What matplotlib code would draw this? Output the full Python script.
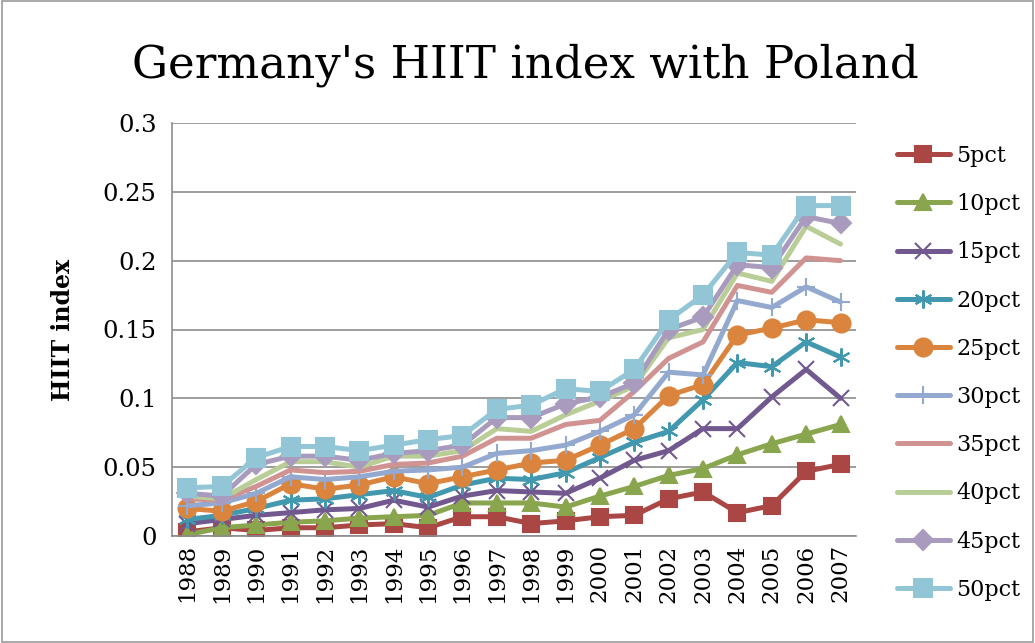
import numpy as np
import matplotlib.pyplot as plt

# Datos
years = [str(y) for y in range(1988, 2008)]
labels = ["5pct", "10pct", "15pct", "20pct", "25pct", "30pct", "35pct", "40pct", "45pct", "50pct"]

pct5 = [0.003, 0.006, 0.004, 0.006, 0.006, 0.008, 0.009, 0.006, 0.014, 0.014,
        0.009, 0.011, 0.014, 0.015, 0.027, 0.032, 0.017, 0.022, 0.047, 0.052]
pct10 = [0.001, 0.006, 0.008, 0.010, 0.011, 0.013, 0.014, 0.015, 0.024, 0.024,
         0.024, 0.021, 0.029, 0.036, 0.044, 0.049, 0.059, 0.067, 0.074, 0.081]
pct15 = [0.009, 0.012, 0.015, 0.017, 0.019, 0.020, 0.026, 0.021, 0.029, 0.033,
         0.032, 0.031, 0.042, 0.055, 0.062, 0.078, 0.078, 0.101, 0.121, 0.100]
pct20 = [0.012, 0.015, 0.020, 0.026, 0.027, 0.030, 0.033, 0.028, 0.037, 0.042,
         0.041, 0.046, 0.057, 0.068, 0.076, 0.099, 0.126, 0.123, 0.141, 0.130]
pct25 = [0.020, 0.018, 0.025, 0.038, 0.034, 0.037, 0.043, 0.038, 0.043, 0.048,
         0.053, 0.055, 0.066, 0.078, 0.102, 0.110, 0.146, 0.151, 0.157, 0.155]
pct30 = [0.022, 0.024, 0.031, 0.043, 0.041, 0.043, 0.047, 0.048, 0.050, 0.060,
         0.062, 0.066, 0.076, 0.088, 0.119, 0.117, 0.171, 0.166, 0.181, 0.170]
pct35 = [0.027, 0.026, 0.036, 0.048, 0.046, 0.047, 0.052, 0.053, 0.058, 0.071,
         0.071, 0.081, 0.084, 0.105, 0.129, 0.141, 0.182, 0.177, 0.202, 0.200]
pct40 = [0.029, 0.027, 0.041, 0.054, 0.054, 0.050, 0.058, 0.058, 0.062, 0.078,
         0.076, 0.088, 0.098, 0.109, 0.144, 0.150, 0.191, 0.185, 0.225, 0.212]
pct45 = [0.031, 0.029, 0.052, 0.058, 0.058, 0.055, 0.060, 0.062, 0.066, 0.086,
         0.086, 0.096, 0.101, 0.111, 0.150, 0.159, 0.197, 0.195, 0.232, 0.227]
pct50 = [0.035, 0.036, 0.057, 0.065, 0.065, 0.062, 0.066, 0.070, 0.073, 0.092,
         0.095, 0.107, 0.105, 0.121, 0.157, 0.175, 0.206, 0.204, 0.240, 0.240]

series = [pct5, pct10, pct15, pct20, pct25, pct30, pct35, pct40, pct45, pct50]
colors = ["#AA4643", "#89A54E", "#71588F", "#4198AF", "#DB843D",
          "#93A9CF", "#D19392", "#B9CD96", "#A99BBD", "#92C5D6"]
markers = ["s", "^", "x", (6, 2, 0), "o", "+", "None", "None", "D", "s"]
msizes = [12, 12, 12, 13, 13, 13, 0, 0, 10, 13]

plt.rcParams['font.family'] = ['DejaVu Serif']

fig = plt.figure(figsize=(10.35, 6.43), dpi=100)
ax = fig.add_axes([172 / 1035, 1 - 536 / 643, (856 - 172) / 1035, (536 - 123) / 643])

x = np.arange(len(years))
for vals, lab, c, m, ms in zip(series, labels, colors, markers, msizes):
    ax.plot(x, vals, color=c, lw=3.6, marker=m, markersize=ms, label=lab,
            markeredgecolor=c, markerfacecolor=c, markeredgewidth=1.5,
            solid_joinstyle='round', solid_capstyle='round')

ax.set_xlim(-0.45, len(years) - 0.55)
ax.set_ylim(0, 0.3)
ax.set_yticks([0, 0.05, 0.1, 0.15, 0.2, 0.25, 0.3])
ax.set_yticklabels(["0", "0.05", "0.1", "0.15", "0.2", "0.25", "0.3"], fontsize=17.5)
ax.set_xticks(x)
ax.set_xticklabels(years, rotation=90, fontsize=16.5)
ax.tick_params(axis='y', length=0, pad=11)
ax.tick_params(axis='x', length=0, pad=6)
ax.grid(axis='y', color='#8c8c8c', lw=1.2)
ax.set_axisbelow(True)
for s in ["top", "right"]:
    ax.spines[s].set_visible(False)
for s in ["left", "bottom"]:
    ax.spines[s].set_color('#8c8c8c')
    ax.spines[s].set_linewidth(1.2)

ax.set_ylabel("HIIT index", fontsize=17, fontweight='bold', labelpad=20)
fig.text(0.508, 0.899, "Germany's HIIT index with Poland", fontsize=32.5, ha='center', va='center')

ax.legend(loc='center left', bbox_to_anchor=(1.03, 0.395), frameon=False, fontsize=16,
          handlelength=2.4, labelspacing=1.18, handletextpad=0.3)

# Borde exterior
fig.patches.append(plt.Rectangle((0.002, 0.002), 0.996, 0.996, transform=fig.transFigure,
                                 fill=False, edgecolor='#9a9a9a', lw=1.2))

fig.savefig("out.png", dpi=100)
